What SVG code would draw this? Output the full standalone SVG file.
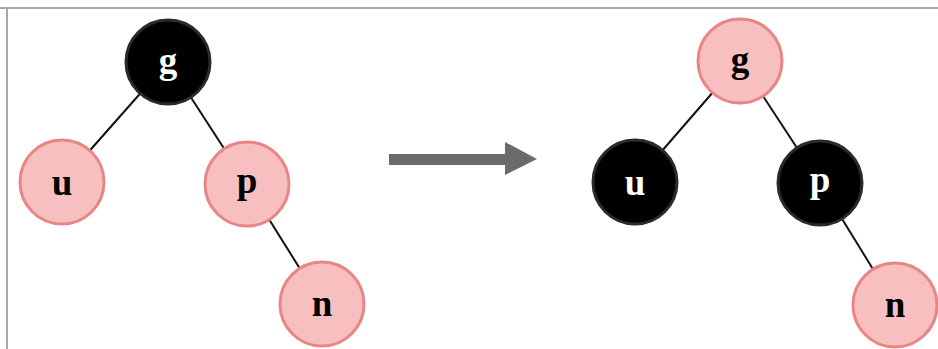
<svg xmlns="http://www.w3.org/2000/svg" width="938" height="349" viewBox="0 0 938 349">
<style>
.edge{stroke:#111;stroke-width:2;fill:none}
.red{fill:#f7bfbf;stroke:#e98585;stroke-width:3}
.black{fill:#000;stroke:#2a2a2a;stroke-width:3}
.lbl{font-family:"Liberation Serif","Times New Roman",serif;font-weight:bold;font-size:37px;text-anchor:middle}
.lr{fill:#000}
.lb{fill:#fff}
</style>
<rect x="0" y="0" width="938" height="349" fill="#fff"/>
<line x1="0" y1="8" x2="938" y2="8" stroke="#a8a8a8" stroke-width="2"/>
<line x1="7" y1="8" x2="7" y2="349" stroke="#a8a8a8" stroke-width="2"/>
<g id="connectors">
<line class="edge" x1="168" y1="62" x2="62" y2="182"/>
<line class="edge" x1="168" y1="62" x2="247" y2="184"/>
<line class="edge" x1="247" y1="184" x2="322" y2="304"/>
<line class="edge" x1="740" y1="61" x2="635" y2="182"/>
<line class="edge" x1="740" y1="61" x2="820" y2="183"/>
<line class="edge" x1="820" y1="183" x2="895" y2="305"/>
<g id="arrow">
<rect x="389" y="154" width="118" height="11" fill="#6b6b6b"/>
<polygon points="505,142 537,159 505,175" fill="#6b6b6b"/>
</g>
</g>
<g id="left-g"><circle class="black" cx="168" cy="62" r="42"/><text class="lbl lb" x="168" y="73">g</text></g>
<g id="left-u"><circle class="red" cx="62" cy="182" r="42"/><text class="lbl lr" x="62" y="195">u</text></g>
<g id="left-p"><circle class="red" cx="247" cy="184" r="42"/><text class="lbl lr" x="247" y="193">p</text></g>
<g id="left-n"><circle class="red" cx="322" cy="304" r="42"/><text class="lbl lr" x="322" y="316">n</text></g>
<g id="right-g"><circle class="red" cx="740" cy="61" r="42"/><text class="lbl lr" x="740" y="72">g</text></g>
<g id="right-u"><circle class="black" cx="635" cy="182" r="42"/><text class="lbl lb" x="635" y="195">u</text></g>
<g id="right-p"><circle class="black" cx="820" cy="183" r="42"/><text class="lbl lb" x="820" y="192">p</text></g>
<g id="right-n"><circle class="red" cx="895" cy="305" r="42"/><text class="lbl lr" x="895" y="317">n</text></g>
</svg>
